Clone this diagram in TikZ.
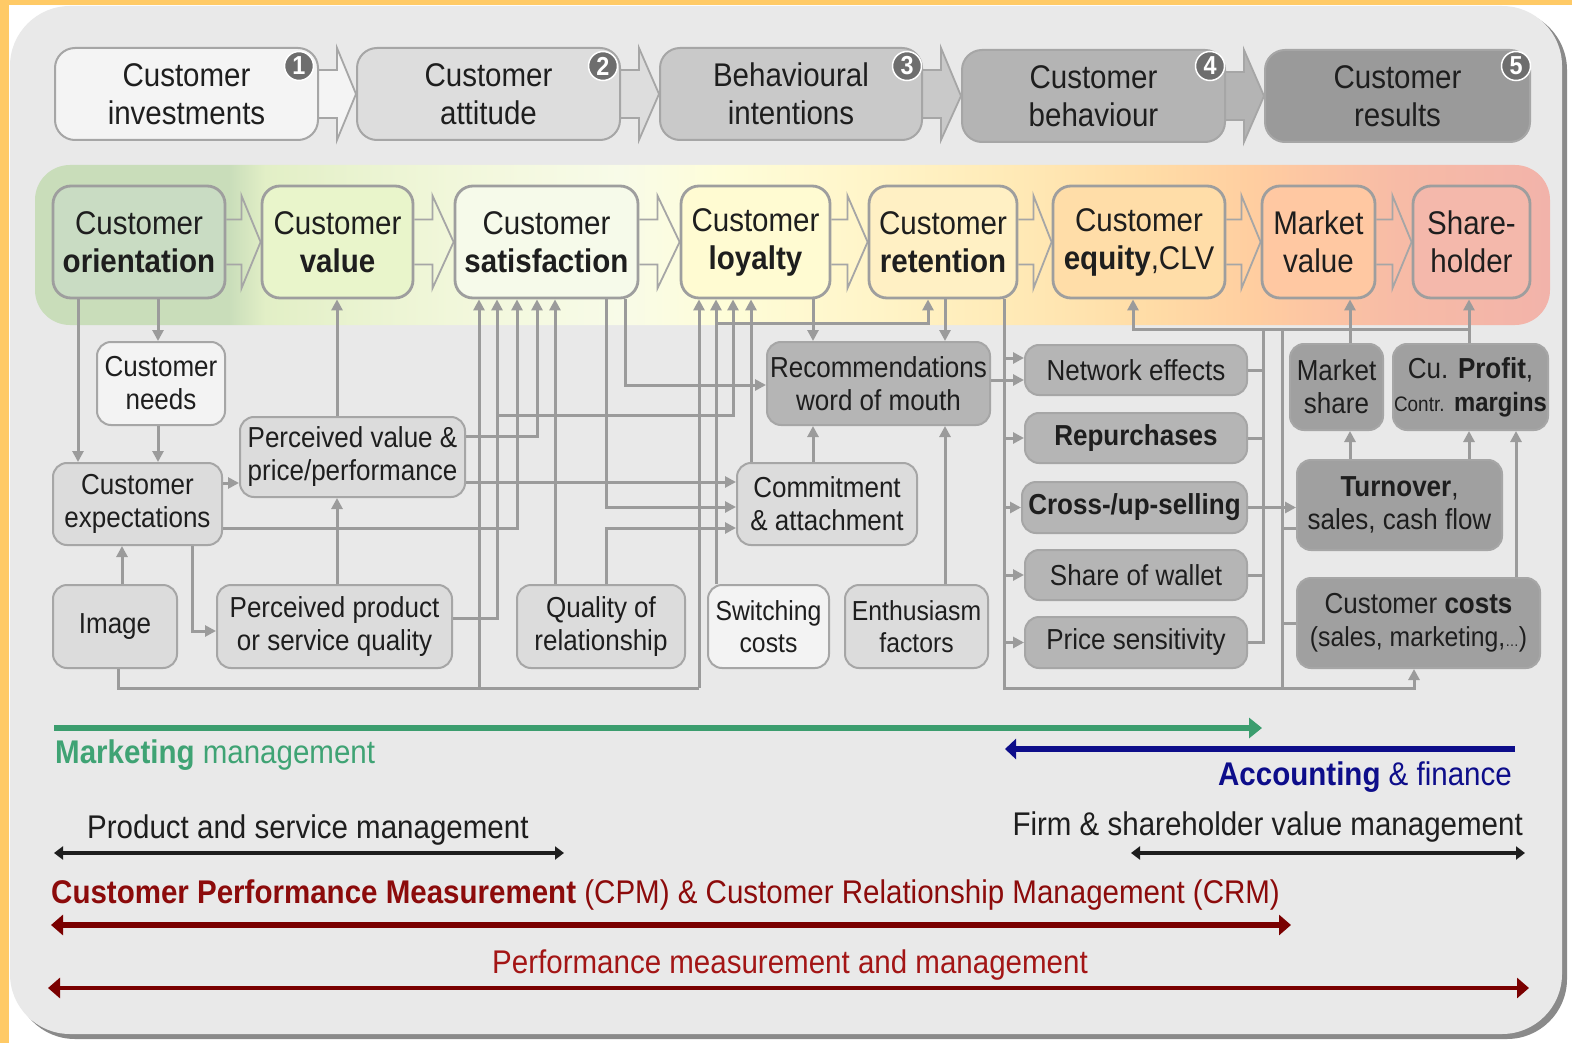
\documentclass[tikz,border=0pt]{standalone}
\usepackage{fontspec}
\setmainfont{Liberation Sans}[FakeStretch=0.9]
\usetikzlibrary{arrows.meta,calc}
\pgfdeclarelayer{bg}
\pgfsetlayers{bg,main}
\definecolor{frameY}{HTML}{FFCA66}
\definecolor{bgG}{HTML}{E9E9E9}
\definecolor{shadowG}{HTML}{8A8A8A}
\definecolor{lineG}{HTML}{9B9B9B}
\definecolor{bordG}{HTML}{A6A6A6}
\definecolor{midB}{HTML}{9E9E9E}
\definecolor{txt}{HTML}{1E1E1E}
\definecolor{numG}{HTML}{6E6E6E}
\definecolor{t1}{HTML}{F4F4F4}
\definecolor{t2}{HTML}{DDDDDD}
\definecolor{t3}{HTML}{C9C9C9}
\definecolor{t4}{HTML}{B4B4B4}
\definecolor{t5}{HTML}{9A9A9A}
\definecolor{coF}{HTML}{C9DCC3}
\definecolor{cvF}{HTML}{E9F5CB}
\definecolor{csF}{HTML}{F6FAEA}
\definecolor{clF}{HTML}{FFFBD2}
\definecolor{crF}{HTML}{FFF0C4}
\definecolor{ceF}{HTML}{FFDDA8}
\definecolor{mvF}{HTML}{FFC8A2}
\definecolor{shF}{HTML}{F4B8AB}
\definecolor{lightF}{HTML}{F3F3F3}
\definecolor{midF}{HTML}{DCDCDC}
\definecolor{darkF}{HTML}{B5B5B5}
\definecolor{darkerF}{HTML}{A0A0A0}
\definecolor{mgreen}{HTML}{3B9D6E}
\definecolor{mgreenT}{HTML}{3FA374}
\definecolor{navy}{HTML}{0D0D8A}
\definecolor{dred}{HTML}{8C0B0B}
\definecolor{dredL}{HTML}{7A0000}
\definecolor{dred2}{HTML}{A31515}
\definecolor{b0}{HTML}{C9DDBA}
\definecolor{b1}{HTML}{E2EFC6}
\definecolor{b2}{HTML}{F1F7DA}
\definecolor{b3}{HTML}{F8FBE8}
\definecolor{b4}{HTML}{FEFDD9}
\definecolor{b5}{HTML}{FFF6CB}
\definecolor{b6}{HTML}{FFEBB8}
\definecolor{b7}{HTML}{FFDCA6}
\definecolor{b8}{HTML}{FFCEA0}
\definecolor{b9}{HTML}{FDC7A2}
\definecolor{b10}{HTML}{F7BBA6}
\definecolor{b11}{HTML}{F2B3AA}
\pgfdeclarehorizontalshading{bandsh}{100bp}{color(0bp)=(b0); color(25bp)=(b0); color(31.4bp)=(b0); color(32.6bp)=(b1); color(38.7bp)=(b2); color(44.3bp)=(b3); color(47.6bp)=(b4); color(51.9bp)=(b5); color(56.8bp)=(b6); color(61.8bp)=(b7); color(65.1bp)=(b8); color(66.7bp)=(b9); color(70bp)=(b10); color(75bp)=(b11); color(100bp)=(b11)}
\newcommand\fA{\fontsize{32.8}{38}\selectfont}
\newcommand\fB{\fontsize{28.9}{33}\selectfont}
\newcommand\fC{\fontsize{27.5}{32}\selectfont}
\newcommand\fN{\fontsize{26}{28}\selectfont}
\newcommand{\blockarrow}[6]{%
 \draw[barr, fill=#6] ($(#1.east)+(0,-#3)$) -- ++(#5,0) -- ++(0,#3-#4) -- (#2.west) -- ($(#1.east)+(#5,#4)$) -- ++(0,#3-#4) -- ($(#1.east)+(0,#3)$);}
\tikzset{
 box/.style={draw=bordG, line width=2pt, rounded corners=14pt, inner sep=0pt, align=center, text=txt},
 topbox/.style={box, rounded corners=20pt, minimum width=263pt, minimum height=92pt, font=\fA},
 midbox/.style={box, draw=midB, line width=2.8pt, rounded corners=18pt, minimum height=112pt, font=\fA},
 lowbox/.style={box, font=\fB},
 conn/.style={draw=lineG, line width=3pt, -{Triangle[length=11pt,width=11pt]}},
 plain/.style={draw=lineG, line width=3pt},
 numc/.style={circle, fill=numG, draw=white, line width=1.5pt, minimum size=29pt, inner sep=0pt, text=white, font=\fN\bfseries},
 barr/.style={draw=bordG, line width=1.8pt, line join=miter},
 lbl/.style={inner sep=0pt, font=\fA},
}
\begin{document}
\begin{tikzpicture}[x=1pt,y=-1pt]
\useasboundingbox (0,0) rectangle (1572,1043);
\begin{pgfonlayer}{bg}
\fill[white] (0,0) rectangle (1572,1043);
\fill[frameY] (0,0) rectangle (9,1043);
\fill[frameY] (0,0) rectangle (1572,5);
\fill[shadowG, rounded corners=60pt] (15,10) rectangle (1567,1039);
\fill[bgG, rounded corners=60pt] (10,6) rectangle (1562,1034);
\path[shading=bandsh, rounded corners=35pt] (35,165) rectangle (1550,325);
\end{pgfonlayer}

% top row
\node[topbox, fill=t1] (T1) at (186.5,94) {Customer\\investments};
\node[topbox, fill=t2] (T2) at (488.5,94) {Customer\\attitude};
\node[topbox, fill=t3, minimum width=262pt] (T3) at (791,94) {Behavioural\\intentions};
\node[topbox, fill=t4] (T4) at (1093.5,96) {Customer\\behaviour};
\node[topbox, fill=t5, minimum width=265pt] (T5) at (1397.5,96) {Customer\\results};
\node[numc] (N1) at (299,66) {1};
\node[numc] (N2) at (603,66) {2};
\node[numc] (N3) at (907,66) {3};
\node[numc] (N4) at (1210,66) {4};
\node[numc] (N5) at (1516,66) {5};

% middle row
\node[midbox, fill=coF, minimum width=172pt] (CO) at (139,242) {Customer\\\textbf{orientation}};
\node[midbox, fill=cvF, minimum width=151pt] (CV) at (337.5,242) {Customer\\\textbf{value}};
\node[midbox, fill=csF, minimum width=183pt] (CS) at (546.5,242) {Customer\\\textbf{satisfaction}};
\node[midbox, fill=clF, minimum width=149pt] (CL) at (755.5,242) {Customer\\\textbf{loyalty}};
\node[midbox, fill=crF, minimum width=148pt] (CR) at (943,242) {Customer\\\textbf{retention}};
\node[midbox, fill=ceF, minimum width=172pt] (CE) at (1139,242) {Customer\\\textbf{equity},CLV};
\node[midbox, fill=mvF, minimum width=113pt] (MV) at (1318.5,242) {Market\\value};
\node[midbox, fill=shF, minimum width=117pt] (SH) at (1471.5,242) {Share-\\holder};

% lower nodes
\node[lowbox, fill=lightF, minimum width=128pt, minimum height=83pt] (CN) at (161,383.5) {Customer\\needs};
\node[lowbox, fill=midF, minimum width=169pt, minimum height=82pt] (CX) at (137.5,504) {Customer\\expectations};
\node[lowbox, fill=midF, minimum width=225pt, minimum height=80pt] (PV) at (352.5,457) {Perceived value \&\\price/performance};
\node[lowbox, fill=midF, minimum width=124pt, minimum height=83pt] (IM) at (115,626.5) {Image};
\node[lowbox, fill=midF, minimum width=235pt, minimum height=83pt] (PP) at (334.5,626.5) {Perceived product\\or service quality};
\node[lowbox, fill=midF, minimum width=168pt, minimum height=83pt] (QR) at (601,626.5) {Quality of\\relationship};
\node[lowbox, font=\fC, fill=lightF, minimum width=121pt, minimum height=83pt] (SC) at (768.5,626.5) {Switching\\costs};
\node[lowbox, font=\fC, fill=midF, minimum width=143pt, minimum height=83pt] (EF) at (916.5,626.5) {Enthusiasm\\factors};
\node[lowbox, fill=midF, minimum width=180pt, minimum height=82pt] (CA) at (827,504) {Commitment\\\& attachment};
\node[lowbox, fill=darkF, minimum width=223pt, minimum height=83pt] (RW) at (878.5,383.5) {Recommendations\\word of mouth};
\node[lowbox, fill=darkF, minimum width=222pt, minimum height=50pt] (NE) at (1136,370) {Network effects};
\node[lowbox, fill=darkF, minimum width=222pt, minimum height=50pt] (RP) at (1136,438) {\textbf{Repurchases}};
\node[lowbox, fill=darkF, minimum width=225pt, minimum height=51pt] (XS) at (1134.5,507.5) {\textbf{Cross-/up-selling}};
\node[lowbox, fill=darkF, minimum width=222pt, minimum height=50pt] (SW) at (1136,575) {Share of wallet};
\node[lowbox, fill=darkF, minimum width=222pt, minimum height=51pt] (PS) at (1136,642.5) {Price sensitivity};
\node[lowbox, fill=darkerF, minimum width=93pt, minimum height=86pt] (MS) at (1336.5,387) {Market\\share};
\node[lowbox, fill=darkerF, minimum width=155pt, minimum height=86pt] (CP) at (1470.5,387) {Cu. \textbf{Profit},\\{\fontsize{21}{25}\selectfont Contr.} {\fontsize{26.5}{30}\selectfont\textbf{margins}}};
\node[lowbox, fill=darkerF, minimum width=205pt, minimum height=90pt] (TO) at (1399.5,505) {\textbf{Turnover},\\sales, cash flow};
\node[lowbox, fill=darkerF, minimum width=243pt, minimum height=90pt] (CC) at (1418.5,623) {Customer \textbf{costs}\\{\fontsize{27.5}{32}\selectfont (sales, marketing,{\fontsize{15}{18}\selectfont\dots})}};

% block arrows
\begin{pgfonlayer}{bg}
\blockarrow{T1}{T2}{24}{46}{18}{t1}
\blockarrow{T2}{T3}{24}{46}{18}{t2}
\blockarrow{T3}{T4}{24}{46}{18}{t3}
\blockarrow{T4}{T5}{24}{46}{18}{t4}
\blockarrow{CO}{CV}{22.5}{46.5}{15}{none}
\blockarrow{CV}{CS}{22.5}{46.5}{18}{none}
\blockarrow{CS}{CL}{22.5}{46.5}{18}{none}
\blockarrow{CL}{CR}{22.5}{46.5}{16}{none}
\blockarrow{CR}{CE}{22.5}{46.5}{15}{none}
\blockarrow{CE}{MV}{22.5}{46.5}{15}{none}
\blockarrow{MV}{SH}{22.5}{46.5}{16}{none}
\end{pgfonlayer}

% connectors left part
\draw[conn] (78,0 |- CO.south) -- (78,0 |- CX.north);
\draw[conn] (158,0 |- CO.south) -- (158,0 |- CN.north);
\draw[conn] (158,0 |- CN.south) -- (158,0 |- CX.north);
\draw[conn] (CX.east |- 0,483) -- (PV.west |- 0,483);
\draw[conn] (337,0 |- PV.north) -- (337,0 |- CV.south);
\draw[conn] (337,0 |- PP.north) -- (337,0 |- PV.south);
\draw[conn] (122,0 |- IM.north) -- (122,0 |- CX.south);
\draw[conn] (192,0 |- CX.south) |- (PP.west |- 0,631);
\coordinate (imgB) at (699,688);
\coordinate (imgS) at (479,688);
\draw[plain] (118,0 |- IM.south) |- (imgB);
\draw[conn] (imgB) -- (699,0 |- CL.south);
\draw[conn] (imgS) -- (479,0 |- CS.south);
\draw[conn] (PP.east |- 0,618) -| (497,0 |- CS.south);
\coordinate (ppJ) at (497,415);
\draw[conn] (ppJ) -| (733,0 |- CL.south);
\draw[conn] (CX.east |- 0,528) -| (517,0 |- CS.south);
\draw[conn] (PV.east |- 0,436) -| (537,0 |- CS.south);
\draw[conn] (555,0 |- QR.north) -- (555,0 |- CS.south);
\draw[conn] (PV.east |- 0,482) -- (CA.west |- 0,482);
\draw[conn] (606,0 |- CS.south) |- (CA.west |- 0,507);
\draw[conn] (606,0 |- QR.north) |- (CA.west |- 0,528);
\draw[conn] (625,0 |- CS.south) |- (RW.west |- 0,385);
\draw[conn] (716,0 |- SC.north) -- (716,0 |- CL.south);
\coordinate (scJ) at (716,323);
\draw[conn] (scJ) -| (928,0 |- CR.south);
\draw[conn] (751,0 |- CA.north) -- (751,0 |- CL.south);
\draw[conn] (813,0 |- CL.south) -- (813,0 |- RW.north);
\draw[conn] (945,0 |- CR.south) -- (945,0 |- RW.north);
\draw[conn] (813,0 |- CA.north) -- (813,0 |- RW.south);
\draw[conn] (945,0 |- EF.north) -- (945,0 |- RW.south);

% connectors right part
\coordinate (crB) at (1414,688);
\draw[conn] (1004,0 |- CR.south) |- (crB) -- (1414,0 |- CC.south);
\draw[conn] (1004,358) -- (NE.west |- 0,358);
\draw[conn] (RW.east |- 0,380) -- (NE.west |- 0,380);
\draw[conn] (1004,0 |- RP.west) -- (RP.west);
\draw[conn] (1004,0 |- XS.west) -- (XS.west);
\draw[conn] (1004,0 |- SW.west) -- (SW.west);
\draw[conn] (1004,0 |- PS.west) -- (PS.west);
\draw[plain] (NE.east) -- (1263,0 |- NE.east);
\draw[plain] (RP.east) -- (1263,0 |- RP.east);
\draw[plain] (SW.east) -- (1263,0 |- SW.east);
\coordinate (ceJ) at (1263,329);
\draw[plain] (PS.east) -| (ceJ);
\coordinate (shJ) at (1469,329);
\draw[conn] (shJ) -| (1133,0 |- CE.south);
\draw[conn] (XS.east) -- (TO.west |- XS.east);
\coordinate (toJ) at (1282,329);
\draw[plain] (toJ) -- (1282,688);
\draw[plain] (TO.west |- 0,528) -- (1282,528);
\draw[plain] (CC.west |- 0,623) -- (1282,623);
\draw[conn] (1350,0 |- TO.north) -- (1350,0 |- MS.south);
\draw[conn] (1469,0 |- TO.north) -- (1469,0 |- CP.south);
\draw[conn] (1516,0 |- CC.north) -- (1516,0 |- CP.south);
\draw[conn] (1350,0 |- MS.north) -- (1350,0 |- MV.south);
\draw[conn] (1469,0 |- CP.north) -- (1469,0 |- SH.south);

% bottom spans
\coordinate (gA) at (54,728); \coordinate (gB) at (1262,728);
\draw[line width=6.5pt, mgreen, -{Triangle[length=13pt,width=20pt]}] (gA) -- (gB);
\node[lbl, anchor=base west, text=mgreenT] (lblM) at (55,763) {\textbf{Marketing} management};
\coordinate (nA) at (1515,749); \coordinate (nB) at (1005,749);
\draw[line width=6pt, navy, -{Triangle[length=11pt,width=20pt]}] (nA) -- (nB);
\node[lbl, anchor=base east, text=navy] (lblA) at (1512,785) {\textbf{Accounting} \& finance};
\node[lbl, anchor=base west, text=txt] (lblP) at (87,838) {Product and service management};
\coordinate (pA) at (54,853); \coordinate (pB) at (564,853);
\draw[line width=3.5pt, txt, {Triangle[length=9pt,width=13pt]}-{Triangle[length=9pt,width=13pt]}] (pA) -- (pB);
\node[lbl, anchor=base east, text=txt] (lblF) at (1523,835) {Firm \& shareholder value management};
\coordinate (fA) at (1131,853); \coordinate (fB) at (1525,853);
\draw[line width=3.5pt, txt, {Triangle[length=9pt,width=13pt]}-{Triangle[length=9pt,width=13pt]}] (fA) -- (fB);
\node[lbl, anchor=base west, text=dred] (lblC) at (51,903) {\textbf{Customer Performance Measurement} (CPM) \& Customer Relationship Management (CRM)};
\coordinate (cA) at (51,925); \coordinate (cB) at (1291,925);
\draw[line width=6.5pt, dredL, {Triangle[length=12pt,width=20pt]}-{Triangle[length=12pt,width=20pt]}] (cA) -- (cB);
\node[lbl, anchor=base west, text=dred2] (lblPM) at (492,973) {Performance measurement and management};
\coordinate (mA) at (48,988); \coordinate (mB) at (1529,988);
\draw[line width=4pt, dredL, {Triangle[length=12pt,width=20pt]}-{Triangle[length=12pt,width=20pt]}] (mA) -- (mB);
\end{tikzpicture}
\end{document}
